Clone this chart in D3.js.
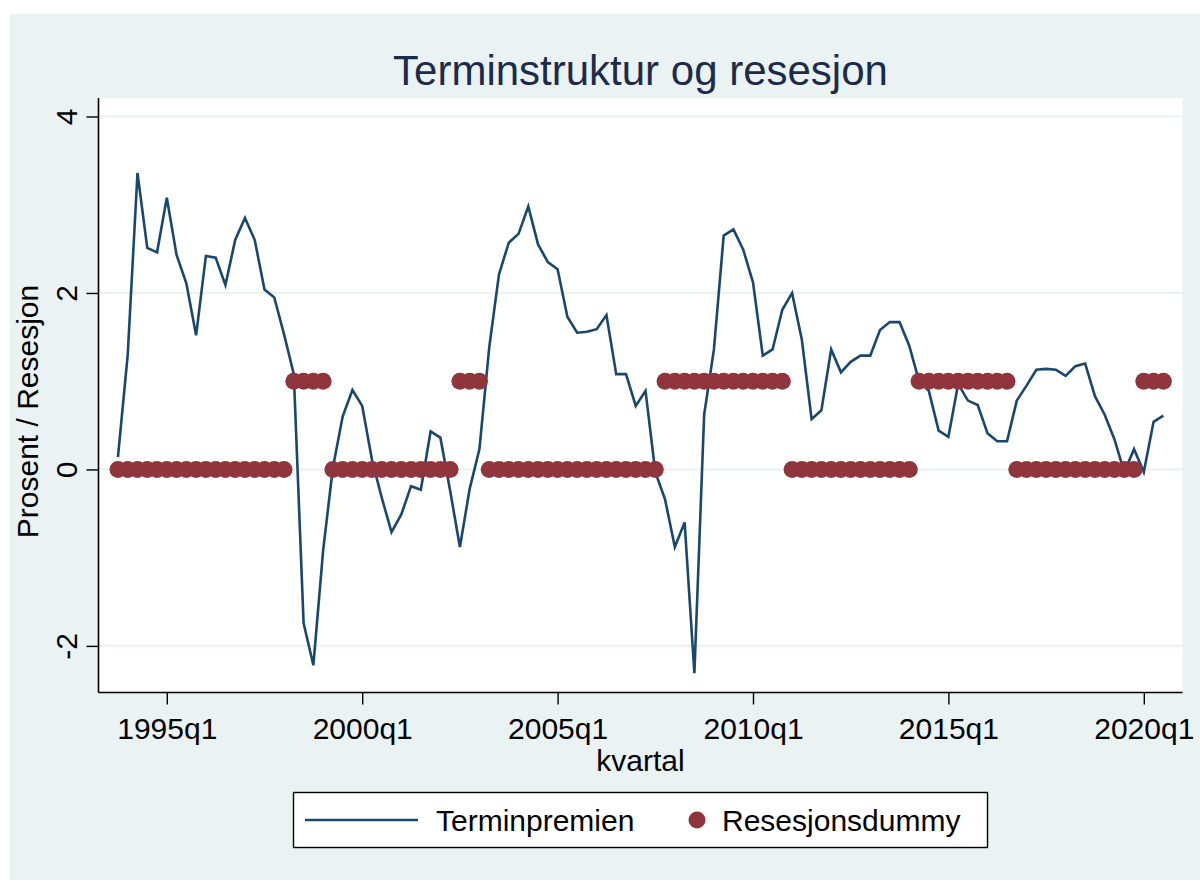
<!DOCTYPE html>
<html>
<head>
<meta charset="utf-8">
<script src="https://cdn.jsdelivr.net/npm/d3@7"></script>
<style>
  body { margin: 0; background: #ffffff; }
  svg text { font-family: "Liberation Sans", Arial, Helvetica, sans-serif; }
</style>
</head>
<body>
<div id="chart"></div>
<script>
// Terminpremien, 1993q4 - 2020q3
var firstQuarter = "1993q4";
var termPremium = [
    0.14, 1.30, 3.36, 2.51, 2.46,
    3.08, 2.43, 2.11, 1.52,
    2.42, 2.40, 2.09, 2.60,
    2.85, 2.60, 2.04, 1.95,
    1.53, 1.08, -1.74, -2.22,
    -0.92, 0.02, 0.60, 0.90,
    0.72, 0.11, -0.32, -0.71,
    -0.51, -0.19, -0.23, 0.43,
    0.36, -0.24, -0.88, -0.22,
    0.23, 1.38, 2.21, 2.57,
    2.67, 2.98, 2.55, 2.35,
    2.27, 1.73, 1.55, 1.56,
    1.59, 1.75, 1.08, 1.08,
    0.72, 0.89, -0.03, -0.34,
    -0.88, -0.60, -2.31, 0.62,
    1.36, 2.65, 2.72, 2.49,
    2.12, 1.29, 1.36, 1.81,
    2.00, 1.47, 0.57, 0.67,
    1.36, 1.10, 1.22, 1.29,
    1.29, 1.58, 1.67, 1.67,
    1.40, 1.00, 0.89, 0.44,
    0.37, 0.97, 0.78, 0.73,
    0.41, 0.32, 0.32, 0.78,
    0.95, 1.13, 1.14, 1.13,
    1.06, 1.17, 1.20, 0.83,
    0.62, 0.34, -0.03, 0.23,
    -0.03, 0.54, 0.61
];

// Resesjonsdummy, same quarters
var recession = [
    0, 0, 0, 0, 0,
    0, 0, 0, 0,
    0, 0, 0, 0,
    0, 0, 0, 0,
    0, 1, 1, 1,
    1, 0, 0, 0,
    0, 0, 0, 0,
    0, 0, 0, 0,
    0, 0, 1, 1,
    1, 0, 0, 0,
    0, 0, 0, 0,
    0, 0, 0, 0,
    0, 0, 0, 0,
    0, 0, 0, 1,
    1, 1, 1, 1,
    1, 1, 1, 1,
    1, 1, 1, 1,
    0, 0, 0, 0,
    0, 0, 0, 0,
    0, 0, 0, 0,
    0, 1, 1, 1,
    1, 1, 1, 1,
    1, 1, 1, 0,
    0, 0, 0, 0,
    0, 0, 0, 0,
    0, 0, 0, 0,
    1, 1, 1
];

var xTickLabels = ["1995q1", "2000q1", "2005q1", "2010q1", "2015q1", "2020q1"];
var yTicks = [-2, 0, 2, 4];

var seriesNames = ["Terminpremien", "Resesjonsdummy"];

var svgWidth = 1200;
var svgHeight = 882;

var plot = { left: 98.5, right: 1182.5, top: 98, bottom: 692.5 };

var lineColor = "#1a476f";
var dotColor = "#90353b";
var bgColor = "#eaf2f3";

// quarter string <-> Stata-style quarter index
function parseQ(s) {
    var parts = s.split("q");
    return (+parts[0] - 1960) * 4 + (+parts[1] - 1);
}
function formatQ(t) {
    return (1960 + Math.floor(t / 4)) + "q" + (t % 4 + 1);
}

var t0 = parseQ(firstQuarter);
var data = termPremium.map((d, i) => {
    return { t: t0 + i, premium: d, dummy: recession[i] };
});

var svg = d3.select("#chart")
    .append("svg")
    .attr("width", svgWidth)
    .attr("height", svgHeight);

// graph region
svg.append("rect")
    .attr("x", 10)
    .attr("y", 14)
    .attr("width", svgWidth - 10)
    .attr("height", svgHeight - 16)
    .attr("fill", bgColor);

// plot region
svg.append("rect")
    .attr("x", plot.left)
    .attr("y", plot.top)
    .attr("width", plot.right - plot.left)
    .attr("height", plot.bottom - plot.top)
    .attr("fill", "#ffffff");

var xScale = d3.scaleLinear()
    .domain([parseQ("1995q1"), parseQ("2020q1")])
    .range([166.8, 1143.8]);

var yScale = d3.scaleLinear()
    .domain([-2, 4])
    .range([645.9, 116.5]);

// gridlines
svg.append("g")
    .selectAll("line")
    .data(yTicks)
    .enter()
    .append("line")
        .attr("x1", plot.left)
        .attr("x2", plot.right)
        .attr("y1", d => yScale(d))
        .attr("y2", d => yScale(d))
        .attr("stroke", bgColor)
        .attr("stroke-width", 2.2);

// line series
var line = d3.line()
    .x(d => xScale(d.t))
    .y(d => yScale(d.premium));

svg.append("path")
    .datum(data)
    .attr("d", line)
    .attr("fill", "none")
    .attr("stroke", lineColor)
    .attr("stroke-width", 2.6)
    .attr("stroke-linejoin", "miter");

// recession dots
svg.append("g")
    .selectAll("circle")
    .data(data)
    .enter()
    .append("circle")
        .attr("cx", d => xScale(d.t))
        .attr("cy", d => yScale(d.dummy))
        .attr("r", 8.5)
        .attr("fill", dotColor);

// axes
var leftAxis = d3.axisLeft(yScale)
    .tickValues(yTicks)
    .tickSize(12)
    .tickSizeOuter(0)
    .tickFormat(d => String(d));

var yAxis = svg.append("g")
    .attr("transform", `translate(${plot.left}, 0)`)
    .call(leftAxis);

yAxis.select(".domain").remove();
yAxis.selectAll("line").attr("stroke", "#000").attr("stroke-width", 1.4);
yAxis.selectAll("text")
    .attr("x", 0)
    .attr("dy", 0)
    .attr("transform", "translate(-21.5, 0) rotate(-90)")
    .attr("text-anchor", "middle")
    .attr("fill", "#000")
    .style("font-size", "30px");

var bottomAxis = d3.axisBottom(xScale)
    .tickValues(xTickLabels.map(parseQ))
    .tickSize(12)
    .tickSizeOuter(0)
    .tickFormat(formatQ);

var xAxis = svg.append("g")
    .attr("transform", `translate(0, ${plot.bottom})`)
    .call(bottomAxis);

xAxis.select(".domain").remove();
xAxis.selectAll("line").attr("stroke", "#000").attr("stroke-width", 1.4);
xAxis.selectAll("text")
    .attr("y", 46.5)
    .attr("dy", 0)
    .attr("fill", "#000")
    .style("font-size", "30px");

// axis lines
svg.append("line")
    .attr("x1", plot.left).attr("x2", plot.left)
    .attr("y1", plot.top).attr("y2", plot.bottom)
    .attr("stroke", "#000").attr("stroke-width", 1.6);

svg.append("line")
    .attr("x1", plot.left).attr("x2", plot.right)
    .attr("y1", plot.bottom).attr("y2", plot.bottom)
    .attr("stroke", "#000").attr("stroke-width", 1.6);

// titles
svg.append("text")
    .attr("x", (plot.left + plot.right) / 2)
    .attr("y", 85)
    .attr("text-anchor", "middle")
    .attr("fill", "#1c2b4b")
    .style("font-size", "42px")
    .text("Terminstruktur og resesjon");

svg.append("text")
    .attr("transform", "translate(38, 411.5) rotate(-90)")
    .attr("text-anchor", "middle")
    .attr("fill", "#000")
    .style("font-size", "30px")
    .text("Prosent / Resesjon");

svg.append("text")
    .attr("x", (plot.left + plot.right) / 2)
    .attr("y", 771)
    .attr("text-anchor", "middle")
    .attr("fill", "#000")
    .style("font-size", "30px")
    .text("kvartal");

// legend
var legend = svg.append("g");

legend.append("rect")
    .attr("x", 293.5)
    .attr("y", 792.5)
    .attr("width", 694)
    .attr("height", 55)
    .attr("fill", "#ffffff")
    .attr("stroke", "#000")
    .attr("stroke-width", 1.4);

legend.append("line")
    .attr("x1", 305).attr("x2", 418)
    .attr("y1", 820).attr("y2", 820)
    .attr("stroke", lineColor)
    .attr("stroke-width", 2.6);

legend.append("text")
    .attr("x", 436)
    .attr("y", 831)
    .attr("fill", "#000")
    .style("font-size", "30px")
    .text(seriesNames[0]);

legend.append("circle")
    .attr("cx", 697)
    .attr("cy", 820)
    .attr("r", 8.5)
    .attr("fill", dotColor);

legend.append("text")
    .attr("x", 722)
    .attr("y", 831)
    .attr("fill", "#000")
    .style("font-size", "30px")
    .text(seriesNames[1]);
</script>
</body>
</html>
